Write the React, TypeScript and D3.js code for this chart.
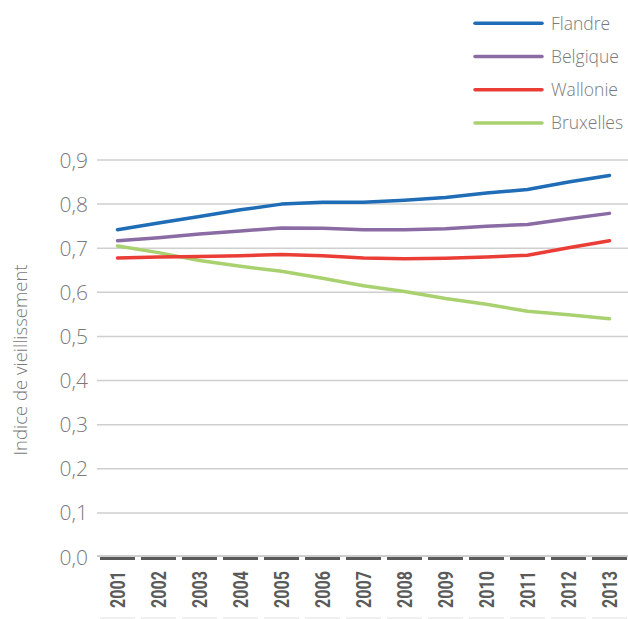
import { useRef, useEffect } from "react";
import * as d3 from "d3";

const years = ["2001", "2002", "2003", "2004", "2005", "2006", "2007", "2008", "2009", "2010", "2011", "2012", "2013"];
const flandre = [0.742, 0.757, 0.772, 0.787, 0.8, 0.804, 0.804, 0.809, 0.815, 0.825, 0.833, 0.85, 0.865];
const belgique = [0.717, 0.724, 0.732, 0.739, 0.746, 0.745, 0.742, 0.742, 0.744, 0.75, 0.754, 0.767, 0.779];
const wallonie = [0.678, 0.68, 0.681, 0.683, 0.686, 0.683, 0.678, 0.676, 0.677, 0.68, 0.684, 0.701, 0.717];
const bruxelles = [0.705, 0.69, 0.672, 0.659, 0.648, 0.632, 0.615, 0.602, 0.586, 0.573, 0.557, 0.549, 0.54];
const yTicks = [0, 0.1, 0.2, 0.3, 0.4, 0.5, 0.6, 0.7, 0.8, 0.9];

const series = [
  { name: "Flandre", values: flandre, color: "#1f6db6" },
  { name: "Belgique", values: belgique, color: "#8a6ba3" },
  { name: "Wallonie", values: wallonie, color: "#ea3d36" },
  { name: "Bruxelles", values: bruxelles, color: "#a9d170" },
];

const W = 628;
const H = 619;

const App = () => {
  const svgRef = useRef<SVGSVGElement>(null);

  useEffect(() => {
    if (!svgRef.current) return;
    const svg = d3.select(svgRef.current);
    svg.selectAll("*").remove();

    const x = d3.scaleBand<string>().domain(years).range([97, 630]).padding(0);
    const y = d3.scaleLinear().domain([0, 0.9]).range([557, 160]);
    const light = "'Open Sans', Lato, sans-serif";

    // grid
    svg
      .append("g")
      .selectAll("line")
      .data(yTicks.slice(1))
      .enter()
      .append("line")
      .attr("x1", 97)
      .attr("x2", W)
      .attr("y1", (d) => y(d))
      .attr("y2", (d) => y(d))
      .attr("stroke", "#cfcfcf")
      .attr("stroke-width", 1.5);

    // y tick labels
    svg
      .append("g")
      .selectAll("text")
      .data(yTicks)
      .enter()
      .append("text")
      .attr("x", 88)
      .attr("y", (d) => y(d))
      .attr("dy", "0.36em")
      .attr("text-anchor", "end")
      .attr("font-family", light)
      .attr("font-weight", 300)
      .attr("font-size", 21)
      .attr("fill", "#7a7a7a")
      .text((d) => d3.format(".1f")(d).replace(".", ","));

    // y axis title
    svg
      .append("text")
      .attr("transform", `translate(27,360) rotate(-90)`)
      .attr("text-anchor", "middle")
      .attr("font-family", light)
      .attr("font-weight", 300)
      .attr("font-size", 18.5)
      .attr("fill", "#7a7a7a")
      .text("Indice de vieillissement");

    // x axis baseline
    svg
      .append("line")
      .attr("x1", 97)
      .attr("x2", W)
      .attr("y1", y(0) - 1)
      .attr("y2", y(0) - 1)
      .attr("stroke", "#bdbdbd")
      .attr("stroke-width", 1.5);

    const bw = x.bandwidth();
    const ax = svg.append("g");
    ax.selectAll("rect.tick")
      .data(years)
      .enter()
      .append("rect")
      .attr("class", "tick")
      .attr("x", (d) => (x(d) ?? 0) + 3)
      .attr("y", y(0))
      .attr("width", bw - 6)
      .attr("height", 3)
      .attr("fill", "#5a5a5a");

    ax.selectAll("rect.foot")
      .data(years)
      .enter()
      .append("rect")
      .attr("class", "foot")
      .attr("x", (d) => (x(d) ?? 0) + 3)
      .attr("y", 617)
      .attr("width", bw - 6)
      .attr("height", 2)
      .attr("fill", "#f0f0f0");

    ax.selectAll("text")
      .data(years)
      .enter()
      .append("text")
      .attr("transform", (d) => `translate(${(x(d) ?? 0) + bw / 2},571) rotate(-90)`)
      .attr("text-anchor", "end")
      .attr("dy", "0.36em")
      .attr("font-family", "'Liberation Sans Narrow', 'Roboto', sans-serif")
      .attr("font-weight", 700)
      .attr("font-size", 21)
      .attr("textLength", 37)
      .attr("lengthAdjust", "spacingAndGlyphs")
      .attr("fill", "#5a5a5a")
      .text((d) => d);

    // lines
    const line = d3
      .line<number>()
      .x((_, i) => (x(years[i]) ?? 0) + bw / 2)
      .y((d) => y(d));

    svg
      .append("g")
      .selectAll("path")
      .data([...series].reverse())
      .enter()
      .append("path")
      .attr("d", (s) => line(s.values))
      .attr("fill", "none")
      .attr("stroke", (s) => s.color)
      .attr("stroke-width", 3.5)
      .attr("stroke-linejoin", "round")
      .attr("stroke-linecap", "round");

    // legend
    const lg = svg
      .append("g")
      .selectAll("g")
      .data(series)
      .enter()
      .append("g")
      .attr("transform", (_, i) => `translate(0,${23.3 + i * 33.2})`);
    lg.append("line")
      .attr("x1", 475)
      .attr("x2", 542)
      .attr("stroke", (s) => s.color)
      .attr("stroke-width", 3.5)
      .attr("stroke-linecap", "round");
    lg.append("text")
      .attr("x", 551)
      .attr("dy", "0.36em")
      .attr("font-family", light)
      .attr("font-weight", 300)
      .attr("font-size", 17.5)
      .attr("fill", "#7a7a7a")
      .text((s) => s.name);
  }, []);

  return (
    <svg
      ref={svgRef}
      width={W}
      height={H}
      style={{ position: "absolute", left: 0, top: 0, background: "#fff" }}
    />
  );
};

export default App;
